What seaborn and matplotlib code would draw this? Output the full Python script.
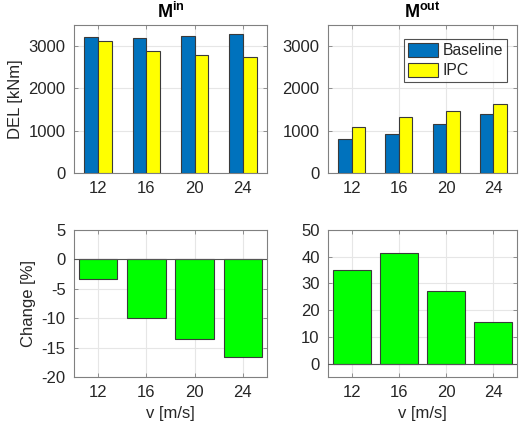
import matplotlib
matplotlib.use("Agg")
import matplotlib.pyplot as plt
import seaborn as sns
import pandas as pd
import numpy as np

speeds = [12, 16, 20, 24]
min_baseline = [3220, 3200, 3230, 3280]
min_ipc = [3110, 2880, 2800, 2740]
mout_baseline = [810, 930, 1150, 1400]
mout_ipc = [1090, 1320, 1460, 1620]
change_in = [-3.4, -10.0, -13.5, -16.6]
change_out = [35.2, 41.3, 27.3, 15.4]
series_names = ["Baseline", "IPC"]

sns.set_theme(style="white")
plt.rcParams['font.family'] = ['Liberation Sans', 'DejaVu Sans']
plt.rcParams['mathtext.fontset'] = 'custom'
plt.rcParams['mathtext.rm'] = 'Liberation Sans'
plt.rcParams['mathtext.bf'] = 'Liberation Sans:bold'
plt.rcParams['axes.unicode_minus'] = False

W, H = 519, 430
fig = plt.figure(figsize=(W / 100, H / 100), dpi=100)

def rect(l, r, t, b):
    return [l / W, 1 - b / H, (r - l) / W, (b - t) / H]

ax_tl = fig.add_axes(rect(74, 267, 25, 173))
ax_tr = fig.add_axes(rect(328, 517, 25, 173))
ax_bl = fig.add_axes(rect(74, 267, 230, 377))
ax_br = fig.add_axes(rect(328, 517, 230, 377))

blue = "#0072BD"
yellow = "#FFFF00"
green = "#00FF00"
edge = "#3a3a3a"
tickc = "#262626"

def grouped(ax, base, ipc, legend):
    df = pd.DataFrame({
        "v": speeds * 2,
        "val": base + ipc,
        "series": [series_names[0]] * 4 + [series_names[1]] * 4,
    })
    sns.barplot(data=df, x="v", y="val", hue="series", native_scale=True,
                palette=[blue, yellow], width=0.575, edgecolor=edge,
                linewidth=0.8, ax=ax, legend=legend, errorbar=None,
                saturation=1, zorder=3)
    ax.set_ylim(0, 3500)
    ax.set_yticks([0, 1000, 2000, 3000])

def single(ax, vals):
    df = pd.DataFrame({"v": speeds, "val": vals})
    sns.barplot(data=df, x="v", y="val", native_scale=True, color=green,
                width=0.8, edgecolor=edge, linewidth=0.8, ax=ax,
                errorbar=None, saturation=1, zorder=3)
    ax.axhline(0, color="#555555", lw=0.8, zorder=4)

grouped(ax_tl, min_baseline, min_ipc, False)
grouped(ax_tr, mout_baseline, mout_ipc, True)
single(ax_bl, change_in)
single(ax_br, change_out)

ax_bl.set_ylim(-20, 5)
ax_bl.set_yticks([-20, -15, -10, -5, 0, 5])
ax_br.set_ylim(-5, 50)
ax_br.set_yticks([0, 10, 20, 30, 40, 50])

for ax in [ax_tl, ax_tr, ax_bl, ax_br]:
    ax.set_xlim(10, 26)
    ax.set_xticks(speeds)
    ax.set_xticklabels([str(s) for s in speeds])
    ax.grid(True, color="#e6e6e6", lw=0.8, zorder=0)
    ax.set_axisbelow(True)
    ax.tick_params(direction="in", length=3, width=0.6, colors="#808080",
                   labelsize=12, labelcolor=tickc, pad=6,
                   top=True, right=True, bottom=True, left=True)
    for s in ax.spines.values():
        s.set_color("#808080")
        s.set_linewidth(0.8)
    ax.set_xlabel("")
    ax.set_ylabel("")

ax_tl.set_ylabel("DEL [kNm]", fontsize=12, color=tickc)
ax_bl.set_ylabel("Change [%]", fontsize=12, color=tickc)
ax_bl.set_xlabel("v [m/s]", fontsize=12, color=tickc)
ax_br.set_xlabel("v [m/s]", fontsize=12, color=tickc)
ax_tl.set_title(r"$\mathbf{M}^{\mathbf{in}}$", fontsize=13, color="black", pad=5)
ax_tr.set_title(r"$\mathbf{M}^{\mathbf{out}}$", fontsize=13, color="black", pad=5)

leg = ax_tr.legend(loc="upper right", bbox_to_anchor=(0.947, 0.905),
                   fontsize=11.3, frameon=True, fancybox=False,
                   edgecolor="#262626", handlelength=1.9, handleheight=1.0,
                   borderaxespad=0.0, labelspacing=0.3, handletextpad=0.3,
                   borderpad=0.25)
leg.get_frame().set_linewidth(0.8)
for t in leg.get_texts():
    t.set_color(tickc)

fig.savefig("out.png", dpi=100)
